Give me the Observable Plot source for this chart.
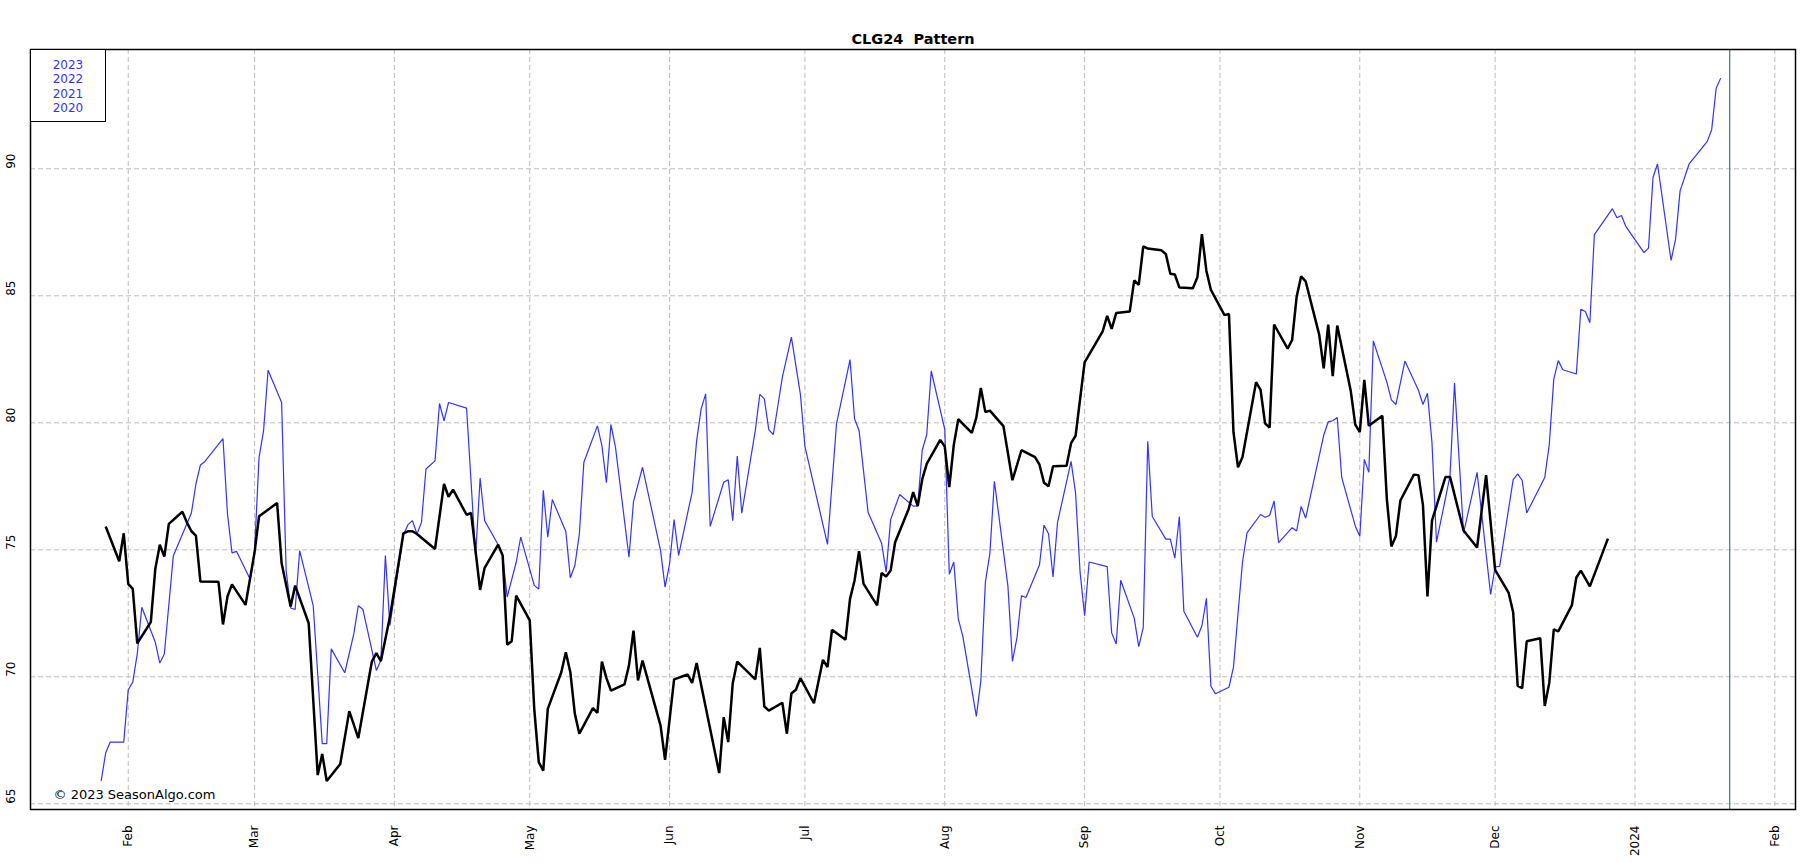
<!DOCTYPE html>
<html>
<head>
<meta charset="utf-8">
<script src="https://cdn.jsdelivr.net/npm/d3@7"></script>
<script src="https://cdn.jsdelivr.net/npm/@observablehq/plot@0.6"></script>
<style>
html, body { margin: 0; padding: 0; background: #fff; }
#wrap { position: relative; width: 1819px; height: 863px; font-family: "DejaVu Sans", sans-serif; }
#wrap svg { display: block; }
#wrap svg text { white-space: pre; }
#legend { position: absolute; left: 30px; top: 49px; width: 76px; height: 73px; box-sizing: border-box;
  border: 1px solid #000; background: #fff; padding-top: 8px; text-align: center; color: #3333ff;
  font-size: 12px; line-height: 14.3px; font-family: "DejaVu Sans", sans-serif; }
</style>
</head>
<body>
<div id="wrap"><div id="legend"></div></div>
<script>
// ---- data ----
const chartTitle = "CLG24  Pattern";
const copyright = "\u00a9 2023 SeasonAlgo.com";
const legendYears = ["2023", "2022", "2021", "2020"];
const expiryDate = "2024-01-22";

const yTicks = [65, 70, 75, 80, 85, 90];
const monthTicks = ["2023-02-01","2023-03-01","2023-04-01","2023-05-01","2023-06-01","2023-07-01",
  "2023-08-01","2023-09-01","2023-10-01","2023-11-01","2023-12-01","2024-01-01","2024-02-01"];
const monthLabels = ["Feb","Mar","Apr","May","Jun","Jul","Aug","Sep","Oct","Nov","Dec","2024","Feb"];

// CLG24 price (black)
const priceDates = ["2023-01-27","2023-01-30","2023-01-31","2023-02-01","2023-02-02","2023-02-03","2023-02-06","2023-02-07","2023-02-08","2023-02-09","2023-02-10",
"2023-02-13","2023-02-14","2023-02-15","2023-02-16","2023-02-17","2023-02-21","2023-02-22","2023-02-23","2023-02-24","2023-02-27",
"2023-03-01","2023-03-02","2023-03-06","2023-03-07","2023-03-09","2023-03-10","2023-03-13","2023-03-15","2023-03-16","2023-03-17",
"2023-03-20","2023-03-22","2023-03-24","2023-03-27","2023-03-28","2023-03-29","2023-03-31","2023-04-03","2023-04-04","2023-04-05","2023-04-06",
"2023-04-10","2023-04-12","2023-04-13","2023-04-14","2023-04-17","2023-04-18","2023-04-20","2023-04-21","2023-04-24","2023-04-25","2023-04-26","2023-04-27","2023-04-28",
"2023-05-01","2023-05-02","2023-05-03","2023-05-04","2023-05-05","2023-05-08","2023-05-09","2023-05-10","2023-05-11","2023-05-12",
"2023-05-15","2023-05-16","2023-05-17","2023-05-18","2023-05-19","2023-05-22","2023-05-23","2023-05-24","2023-05-25","2023-05-26","2023-05-30","2023-05-31",
"2023-06-02","2023-06-05","2023-06-06","2023-06-07","2023-06-12","2023-06-13","2023-06-14","2023-06-15","2023-06-16","2023-06-20","2023-06-21","2023-06-22","2023-06-23",
"2023-06-26","2023-06-27","2023-06-28","2023-06-29","2023-06-30","2023-07-03","2023-07-05","2023-07-06","2023-07-07","2023-07-10","2023-07-11","2023-07-12","2023-07-13","2023-07-14",
"2023-07-17","2023-07-18","2023-07-19","2023-07-20","2023-07-21","2023-07-24","2023-07-25","2023-07-26","2023-07-27","2023-07-28","2023-07-31",
"2023-08-01","2023-08-02","2023-08-03","2023-08-04","2023-08-07","2023-08-08","2023-08-09","2023-08-10","2023-08-11","2023-08-14","2023-08-16","2023-08-18",
"2023-08-21","2023-08-22","2023-08-23","2023-08-24","2023-08-25","2023-08-28","2023-08-29","2023-08-30","2023-09-01","2023-09-05","2023-09-06","2023-09-07","2023-09-08",
"2023-09-11","2023-09-12","2023-09-13","2023-09-14","2023-09-15","2023-09-18","2023-09-19","2023-09-20","2023-09-21","2023-09-22","2023-09-25","2023-09-26","2023-09-27","2023-09-28","2023-09-29",
"2023-10-02","2023-10-03","2023-10-04","2023-10-05","2023-10-06","2023-10-09","2023-10-10","2023-10-11","2023-10-12","2023-10-13","2023-10-16","2023-10-17","2023-10-18","2023-10-19","2023-10-20",
"2023-10-23","2023-10-24","2023-10-25","2023-10-26","2023-10-27","2023-10-30","2023-10-31","2023-11-01","2023-11-02","2023-11-03","2023-11-06","2023-11-07","2023-11-08","2023-11-09","2023-11-10",
"2023-11-13","2023-11-14","2023-11-15","2023-11-16","2023-11-17","2023-11-20","2023-11-21","2023-11-24","2023-11-27","2023-11-29","2023-12-01","2023-12-04","2023-12-05","2023-12-06","2023-12-07","2023-12-08",
"2023-12-11","2023-12-12","2023-12-13","2023-12-14","2023-12-15","2023-12-18","2023-12-19","2023-12-20","2023-12-22","2023-12-26"];
const priceValues = [75.92,74.55,75.65,73.66,73.46,71.32,72.15,74.25,75.20,74.73,76.02,
76.50,76.08,75.73,75.56,73.75,73.74,72.06,73.16,73.64,72.83,
74.90,76.32,76.84,74.47,72.77,73.59,72.11,66.13,66.96,65.90,
66.57,68.65,67.59,70.60,70.93,70.62,72.35,75.65,75.73,75.73,75.62,
75.03,77.59,77.09,77.37,76.38,76.45,73.42,74.29,75.20,74.78,71.26,71.40,73.20,
72.22,68.74,66.64,66.31,68.74,70.18,70.97,70.18,68.54,67.76,
68.77,68.58,70.60,69.95,69.46,69.70,70.45,71.82,69.86,70.64,68.08,66.73,
69.90,70.09,69.76,70.54,66.21,68.41,67.43,69.75,70.60,69.90,71.14,68.83,68.67,
68.98,67.76,69.34,69.49,69.95,68.96,70.67,70.38,71.85,71.46,73.07,73.79,74.95,73.66,
72.81,74.09,73.95,74.19,75.30,76.61,77.27,76.72,77.77,78.38,79.33,
79.06,77.47,79.13,80.14,79.60,80.21,81.37,80.42,80.48,79.87,77.74,78.92,
78.65,78.35,77.64,77.50,78.29,78.31,79.20,79.49,82.38,83.60,84.21,83.70,84.32,
84.38,85.61,85.43,86.95,86.86,86.79,86.65,85.87,85.84,85.33,85.30,85.73,87.43,85.98,85.23,
84.24,84.28,79.63,78.25,78.65,81.60,81.30,79.98,79.81,83.87,82.92,83.26,84.96,85.77,85.57,
83.47,82.14,83.87,81.84,83.83,81.25,79.93,79.63,81.69,79.88,80.28,76.99,75.13,75.53,76.94,
77.96,77.94,76.76,73.16,76.15,77.87,77.87,75.76,75.09,77.94,74.21,73.30,72.54,69.64,69.55,71.40,
71.52,68.85,69.76,71.87,71.79,72.81,73.91,74.18,73.56,75.44];

// Seasonal pattern 2020-2023 (blue)
const patternDates = ["2023-01-26","2023-01-27","2023-01-28","2023-01-31","2023-02-01","2023-02-02","2023-02-03","2023-02-04","2023-02-07","2023-02-08","2023-02-09","2023-02-11",
"2023-02-15","2023-02-16","2023-02-17","2023-02-18","2023-02-22","2023-02-23","2023-02-24","2023-02-25","2023-02-28",
"2023-03-01","2023-03-02","2023-03-03","2023-03-04","2023-03-07","2023-03-08","2023-03-09","2023-03-10","2023-03-11","2023-03-14","2023-03-15","2023-03-16","2023-03-17","2023-03-18",
"2023-03-21","2023-03-23","2023-03-24","2023-03-25","2023-03-28","2023-03-29","2023-03-30","2023-03-31","2023-04-03","2023-04-04","2023-04-05","2023-04-06","2023-04-07","2023-04-08",
"2023-04-10","2023-04-11","2023-04-12","2023-04-13","2023-04-17","2023-04-19","2023-04-20","2023-04-21","2023-04-24","2023-04-25","2023-04-26","2023-04-28","2023-04-29",
"2023-05-02","2023-05-03","2023-05-04","2023-05-05","2023-05-06","2023-05-09","2023-05-10","2023-05-11","2023-05-12","2023-05-13","2023-05-16","2023-05-17","2023-05-18","2023-05-19","2023-05-20",
"2023-05-23","2023-05-24","2023-05-26","2023-05-30","2023-05-31","2023-06-01","2023-06-02","2023-06-03","2023-06-06","2023-06-07","2023-06-08","2023-06-09","2023-06-10",
"2023-06-13","2023-06-14","2023-06-15","2023-06-16","2023-06-17","2023-06-20","2023-06-21","2023-06-22","2023-06-23","2023-06-24","2023-06-26","2023-06-28","2023-06-30",
"2023-07-01","2023-07-06","2023-07-08","2023-07-11","2023-07-12","2023-07-13","2023-07-15","2023-07-18","2023-07-19","2023-07-20","2023-07-22","2023-07-25","2023-07-26","2023-07-27","2023-07-28","2023-07-29",
"2023-08-01","2023-08-02","2023-08-03","2023-08-04","2023-08-05","2023-08-08","2023-08-09","2023-08-10","2023-08-11","2023-08-12","2023-08-15","2023-08-16","2023-08-17","2023-08-18","2023-08-19",
"2023-08-22","2023-08-23","2023-08-24","2023-08-25","2023-08-26","2023-08-29","2023-08-30","2023-08-31","2023-09-01","2023-09-02","2023-09-06","2023-09-07","2023-09-08","2023-09-09",
"2023-09-12","2023-09-13","2023-09-14","2023-09-15","2023-09-16","2023-09-19","2023-09-20","2023-09-21","2023-09-22","2023-09-23","2023-09-26","2023-09-27","2023-09-28","2023-09-29","2023-09-30",
"2023-10-03","2023-10-04","2023-10-05","2023-10-06","2023-10-07","2023-10-10","2023-10-11","2023-10-12","2023-10-13","2023-10-14","2023-10-17","2023-10-18","2023-10-19","2023-10-20",
"2023-10-24","2023-10-25","2023-10-26","2023-10-27","2023-10-28","2023-10-31","2023-11-01","2023-11-02","2023-11-03","2023-11-04","2023-11-07","2023-11-08","2023-11-09","2023-11-11",
"2023-11-14","2023-11-15","2023-11-16","2023-11-17","2023-11-18","2023-11-21","2023-11-22","2023-11-24","2023-11-27","2023-11-30","2023-12-01","2023-12-02","2023-12-05","2023-12-06","2023-12-07","2023-12-08",
"2023-12-12","2023-12-13","2023-12-14","2023-12-15","2023-12-16","2023-12-19","2023-12-20","2023-12-21","2023-12-22","2023-12-23","2023-12-27","2023-12-28","2023-12-29","2023-12-30",
"2024-01-03","2024-01-04","2024-01-05","2024-01-06","2024-01-09","2024-01-10","2024-01-11","2024-01-13","2024-01-17","2024-01-18","2024-01-19","2024-01-20"];
const patternValues = [65.90,67.00,67.43,67.43,69.49,69.79,70.90,72.74,71.36,70.54,70.90,74.77,
76.45,77.59,78.34,78.48,79.38,76.41,74.88,74.94,73.85,
74.97,78.64,79.69,82.07,80.80,74.18,72.71,72.65,74.97,72.80,70.12,67.37,67.37,71.10,
70.16,71.69,72.80,72.66,70.25,70.64,74.77,72.02,75.58,75.99,76.15,75.62,76.08,78.18,
78.50,80.76,80.08,80.80,80.58,74.74,77.82,76.15,75.20,74.78,73.14,74.51,75.50,
73.60,73.46,77.34,75.50,76.98,75.72,73.90,74.38,75.63,78.45,79.88,79.10,77.64,79.93,79.04,
74.71,76.90,78.25,74.97,73.53,74.45,76.19,74.78,77.27,79.30,80.55,81.14,75.92,
77.66,77.76,76.15,78.69,76.44,79.70,81.12,80.94,79.72,79.54,81.80,83.37,81.12,
79.07,75.21,79.96,82.49,80.16,79.70,76.48,75.26,74.12,76.19,77.18,76.72,76.73,78.92,79.53,82.04,
79.74,74.04,74.52,72.28,71.60,68.44,69.84,73.73,74.86,77.70,73.57,70.61,71.53,73.19,73.12,
74.41,75.97,75.63,73.93,76.08,78.48,77.23,74.11,72.41,74.52,74.34,71.73,71.29,73.80,
72.31,71.19,71.94,79.27,76.31,75.42,75.42,74.67,76.31,72.58,71.56,72.01,73.09,69.63,69.33,
69.59,70.38,72.48,74.52,75.67,76.39,76.28,76.35,76.92,75.28,75.87,75.74,76.71,76.25,
79.51,80.04,80.08,80.21,77.84,75.94,75.53,78.56,78.05,83.22,81.60,80.90,80.72,82.43,
81.28,80.72,81.16,79.23,75.30,77.91,81.57,75.66,78.05,73.24,74.34,74.35,77.76,77.99,77.73,76.45,
77.85,79.14,81.72,82.45,82.09,81.92,84.47,84.38,83.94,87.41,88.43,88.07,88.16,87.72,
86.70,86.88,89.67,90.19,86.39,87.23,89.13,90.19,91.07,91.54,93.17,93.57];

// ---- build ----
const price = priceDates.map((d, i) => ({date: new Date(d), value: priceValues[i]}));
const pattern = patternDates.map((d, i) => ({date: new Date(d), value: patternValues[i]}));
const ticks = monthTicks.map(d => new Date(d));

const font = "DejaVu Sans, sans-serif";
const blue = "#3333ff";

const chart = Plot.plot({
  width: 1819,
  height: 863,
  marginLeft: 30,
  marginRight: 24,
  marginTop: 49,
  marginBottom: 54,
  style: {fontFamily: font, background: "#fff", overflow: "visible"},
  x: {type: "utc", domain: [new Date(Date.UTC(2023, 0, 10, 8)), new Date(Date.UTC(2024, 1, 5, 14))], axis: null},
  y: {domain: [64.776, 94.697], axis: null},
  marks: [
    Plot.ruleX(ticks, {stroke: "#bdbdbd", strokeWidth: 1, strokeDasharray: "5,3"}),
    Plot.ruleY(yTicks, {stroke: "#bdbdbd", strokeWidth: 1, strokeDasharray: "5,3"}),
    Plot.ruleX([new Date(expiryDate)], {stroke: "#2f8080", strokeWidth: 1.2}),
    Plot.line(pattern, {x: "date", y: "value", stroke: blue, strokeWidth: 1.2, strokeLinejoin: "miter", strokeLinecap: "butt"}),
    Plot.line(price, {x: "date", y: "value", stroke: "#000", strokeWidth: 2.5, strokeLinejoin: "miter", strokeLinecap: "butt"}),
    Plot.frame({stroke: "#000", strokeWidth: 1.5}),
    Plot.text(yTicks, {y: d => d, text: d => String(d), frameAnchor: "left", dx: -19.5, rotate: -90, lineAnchor: "middle", fontSize: 12, fill: "#000"}),
    Plot.text(ticks, {x: d => d, text: (d, i) => monthLabels[i], frameAnchor: "bottom", dy: 16, rotate: -90, textAnchor: "end", lineAnchor: "middle", fontSize: 12, fill: "#000"}),
    Plot.text([chartTitle], {text: d => d, frameAnchor: "top", dy: -10.3, lineAnchor: "middle", fontSize: 14.5, fontWeight: "bold", fill: "#000"}),
    Plot.text([copyright], {text: d => d, frameAnchor: "bottom-left", dx: 23, dy: -14.2, textAnchor: "start", lineAnchor: "middle", fontSize: 13, fill: "#000"})
  ]
});
document.getElementById("wrap").insertBefore(chart, document.getElementById("legend"));
document.getElementById("legend").innerHTML = legendYears.map(y => `<div>${y}</div>`).join("");
</script>
</body>
</html>
